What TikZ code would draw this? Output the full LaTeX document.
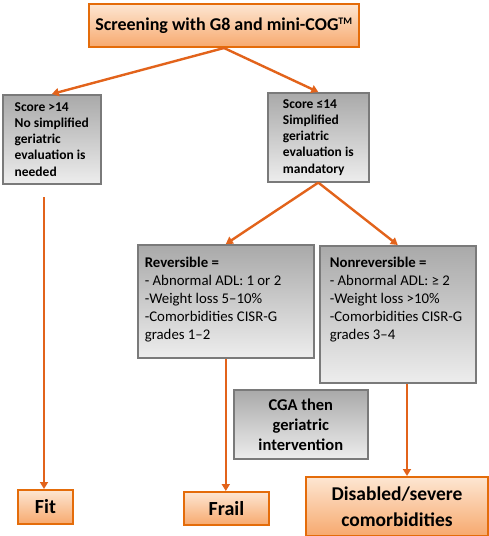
\documentclass[tikz,border=0pt]{standalone}
\usepackage{fontspec}
\setmainfont{Carlito}
\usetikzlibrary{arrows.meta,calc}
\definecolor{orgline}{HTML}{E46C0A}
\definecolor{arrcol}{HTML}{E2631B}
\definecolor{orgtop}{HTML}{FDE6D2}
\definecolor{orgbot}{HTML}{F7A96E}
\definecolor{graytop}{HTML}{A9A9A9}
\definecolor{graybot}{HTML}{EDEDED}
\definecolor{grayline}{HTML}{7A7A7A}
\tikzset{
  orgbox/.style={draw=orgline, line width=2pt, top color=orgtop, bottom color=orgbot, inner sep=0pt, align=center, font=\bfseries},
  graybox/.style={draw=grayline, line width=1.6pt, top color=graytop, bottom color=graybot, inner sep=0pt},
  conn/.style={draw=arrcol, line width=2.4pt, -{Triangle[length=7pt,width=8pt]}},
}
\begin{document}
\begin{tikzpicture}[x=1pt,y=-1pt]
\useasboundingbox (0,0) rectangle (489,536);
\node[orgbox, minimum width=270, minimum height=43, anchor=north west, font=\fontsize{18}{21}\selectfont\bfseries] (top) at (88,3) {Screening with G8 and mini-COG\textsuperscript{\fontsize{10}{10}\selectfont TM}};
\node[graybox, minimum width=98, minimum height=89, anchor=north west, align=left, font=\fontsize{13.5}{16.3}\selectfont\bfseries] (left) at (2,94) {Score >14\\No simplified\\geriatric\\evaluation is\\needed};
\node[graybox, minimum width=101, minimum height=89, anchor=north west, align=left, font=\fontsize{13.5}{16.3}\selectfont\bfseries] (right) at (267,92) {Score ≤14\\Simplified\\geriatric\\evaluation is\\mandatory};
\node[graybox, anchor=north west, inner xsep=7pt, inner ysep=12pt] (rev) at (137,244) {\begin{minipage}[c][89pt][t]{162pt}\fontsize{14.8}{18}\selectfont\textbf{Reversible =}\\- Abnormal ADL: 1 or 2\\-Weight loss 5–10\%\\-Comorbidities CISR-G\\grades 1–2\end{minipage}};
\node[graybox, anchor=north west, inner xsep=10pt, inner ysep=11pt] (nonrev) at (319,245) {\begin{minipage}[c][115pt][t]{136pt}\fontsize{14.8}{18}\selectfont\textbf{Nonreversible =}\\- Abnormal ADL: ≥ 2\\-Weight loss >10\%\\-Comorbidities CISR-G\\grades 3–4\end{minipage}};
\node[graybox, minimum width=134, minimum height=69, anchor=north west, align=center, font=\fontsize{16.5}{20}\selectfont\bfseries] (cga) at (233,389) {CGA then\\geriatric\\intervention};
\node[orgbox, minimum width=55, minimum height=34, anchor=north west, font=\fontsize{20}{22}\selectfont\bfseries] (fit) at (17,489) {Fit};
\node[orgbox, minimum width=85, minimum height=33, anchor=north west, font=\fontsize{20}{22}\selectfont\bfseries] (frail) at (183,491) {Frail};
\node[orgbox, minimum width=182, minimum height=59, anchor=north west, font=\fontsize{19.5}{26}\selectfont\bfseries] (dis) at (305,476) {Disabled/severe\\comorbidities};
\coordinate (lstart) at (44,197);
\coordinate (dx) at (407,0);
\draw[conn] (top.south) -- (left.north);
\draw[conn] (top.south) -- (right.north);
\draw[conn] (right.south) -- (rev.north);
\draw[conn] (right.south) -- (nonrev.north);
\draw[conn] (lstart) -- (lstart |- fit.north);
\draw[conn] (rev.south) -- (rev.south |- frail.north);
\draw[conn] (nonrev.south -| dx) -- (dis.north -| dx);
\end{tikzpicture}
\end{document}
